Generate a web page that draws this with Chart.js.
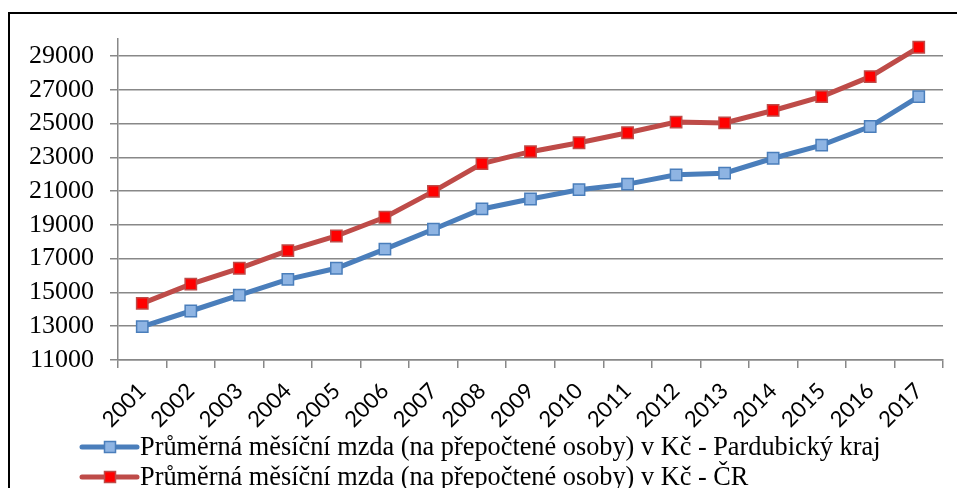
<!DOCTYPE html>
<html>
<head>
<meta charset="utf-8">
<script src="https://cdn.jsdelivr.net/npm/chart.js@4"></script>
<style>
  html, body { margin: 0; padding: 0; background: #fff; overflow: hidden; }
  #frame { position: absolute; left: 8px; top: 12px; width: 1100px; height: 700px; border: 2px solid #000; }
  #wrap { position: absolute; left: 0; top: 0; width: 957px; height: 488px; }
</style>
</head>
<body>
<div id="frame"></div>
<div id="wrap"><canvas id="wageChart" width="957" height="488"></canvas></div>
<script>
// Data
const years = ['2001', '2002', '2003', '2004', '2005', '2006', '2007', '2008', '2009',
    '2010', '2011', '2012', '2013', '2014', '2015', '2016', '2017'];
const pardubice = [12980, 13900, 14840, 15770, 16430, 17560, 18740, 19940, 20530,
    21080, 21410, 21960, 22060, 22940, 23720, 24820, 26590];
const czechia = [14350, 15490, 16430, 17470, 18340, 19450, 20980, 22620, 23330,
    23860, 24450, 25080, 25030, 25770, 26590, 27770, 29510];
const yTicks = [11000, 13000, 15000, 17000, 19000, 21000, 23000, 25000, 27000, 29000];

const labelPardubice = 'Průměrná měsíční mzda (na přepočtené osoby) v Kč - Pardubický kraj';
const labelCzechia = 'Průměrná měsíční mzda (na přepočtené osoby) v Kč - ČR';

const colors = {
    blueLine: '#4a7ebb',
    blueFill: '#8eb4e3',
    redLine: '#be4b48',
    redFill: '#ff0000',
    grid: '#888888'
};

const serif = '"Liberation Serif", "Times New Roman", serif';

// Legend below the axis, one row per dataset, left aligned under the y labels
const stackedLegend = {
    id: 'stackedLegend',
    afterDraw(chart) {
        const ctx = chart.ctx;
        const area = chart.chartArea;
        ctx.save();
        chart.data.datasets.forEach((ds, i) => {
            const y = area.bottom + 87 + i * 30;
            const x0 = area.left - 36;
            ctx.strokeStyle = ds.borderColor;
            ctx.lineWidth = 5;
            ctx.lineCap = 'round';
            ctx.beginPath();
            ctx.moveTo(x0, y);
            ctx.lineTo(x0 + 55, y);
            ctx.stroke();
            ctx.fillStyle = ds.pointBackgroundColor;
            ctx.fillRect(x0 + 22.5, y - 5.5, 11, 11);
            ctx.strokeStyle = ds.pointBorderColor;
            ctx.lineWidth = 1.5;
            ctx.strokeRect(x0 + 22.5, y - 5.5, 11, 11);
            ctx.fillStyle = '#000';
            ctx.font = '26.3px ' + serif;
            ctx.textBaseline = 'alphabetic';
            ctx.textAlign = 'left';
            ctx.fillText(ds.label, x0 + 58, y + 8);
        });
        ctx.restore();
    }
};

new Chart(document.getElementById('wageChart'), {
    type: 'line',
    data: {
        labels: years,
        datasets: [{
            label: labelPardubice,
            data: pardubice,
            borderColor: colors.blueLine,
            borderWidth: 5,
            pointStyle: 'rect',
            pointRadius: 8,
            pointBackgroundColor: colors.blueFill,
            pointBorderColor: colors.blueLine,
            pointBorderWidth: 1.5,
            tension: 0
        }, {
            label: labelCzechia,
            data: czechia,
            borderColor: colors.redLine,
            borderWidth: 5,
            pointStyle: 'rect',
            pointRadius: 8,
            pointBackgroundColor: colors.redFill,
            pointBorderColor: colors.redLine,
            pointBorderWidth: 1.5,
            tension: 0
        }]
    },
    plugins: [stackedLegend],
    options: {
        responsive: false,
        animation: false,
        layout: {
            padding: { left: 28, right: 14, top: 39, bottom: 36 }
        },
        plugins: {
            tooltip: { enabled: false },
            legend: { display: false }
        },
        scales: {
            x: {
                offset: true,
                grid: {
                    offset: true,
                    drawOnChartArea: false,
                    tickLength: 8,
                    color: colors.grid,
                    lineWidth: 1.5
                },
                border: { color: colors.grid, width: 1.5 },
                ticks: {
                    minRotation: 45,
                    maxRotation: 45,
                    padding: 10,
                    color: '#000',
                    font: { family: 'Lato, "Liberation Sans", sans-serif', size: 22 }
                },
                afterFit: scale => {
                    scale.height = 92;
                    scale.paddingLeft = 0;
                    scale.paddingRight = 0;
                }
            },
            y: {
                min: 11000,
                max: 30000,
                grid: {
                    tickLength: 8,
                    color: colors.grid,
                    lineWidth: 1.5
                },
                border: { color: colors.grid, width: 1.5 },
                ticks: {
                    padding: 16,
                    color: '#000',
                    font: { family: serif, size: 26 },
                    callback: value => String(value)
                },
                afterBuildTicks: scale => { scale.ticks = yTicks.map(v => ({ value: v })); },
                afterFit: scale => { scale.width = 90; }
            }
        }
    }
});
</script>
</body>
</html>
